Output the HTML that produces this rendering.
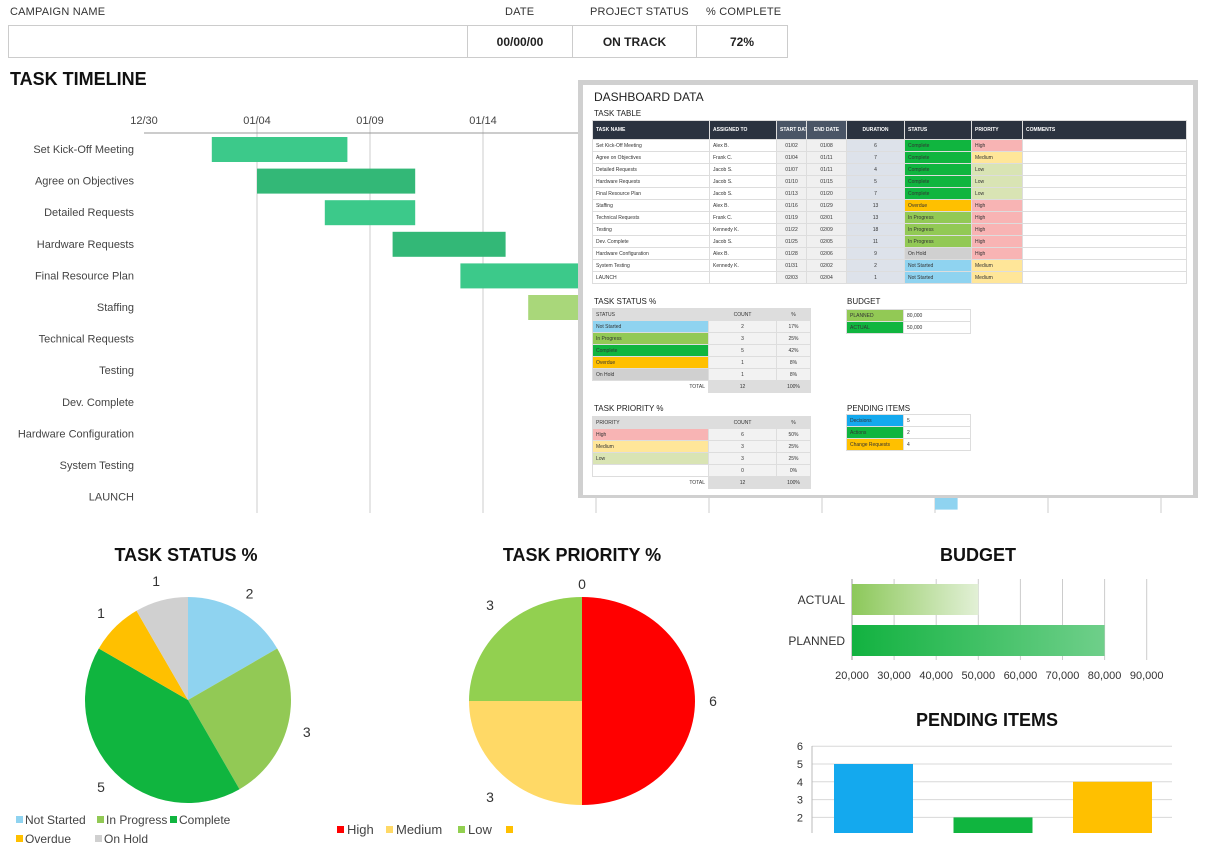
<!DOCTYPE html>
<html><head><meta charset="utf-8">
<style>
body{margin:0;width:1205px;height:851px;overflow:hidden;background:#fff;font-family:"Liberation Sans",sans-serif;color:#222;position:relative}
.a{position:absolute}
.lbl{font-size:11px;color:#333;letter-spacing:0.2px}
.hb{position:absolute;top:25px;height:33px;border:1px solid #ccc;box-sizing:border-box;font-weight:bold;font-size:12px;display:flex;align-items:center;justify-content:center}
.title{font-weight:bold;font-size:18px;color:#111}
table{border-collapse:collapse;position:absolute;font-size:5px;color:#333;table-layout:fixed}
td{border:1px solid #ddd;padding:0 3px;height:11px;overflow:hidden;white-space:nowrap}
.th td{background:#2b3340;color:#fff;font-weight:bold;height:18px}
.ph{font-size:8px;color:#222}
</style></head><body>
<div class="a lbl" style="left:10px;top:6px">CAMPAIGN NAME</div>
<div class="a lbl" style="left:505px;top:6px">DATE</div>
<div class="a lbl" style="left:590px;top:6px">PROJECT STATUS</div>
<div class="a lbl" style="left:706px;top:6px">% COMPLETE</div>
<div class="hb" style="left:8px;width:460px"></div>
<div class="hb" style="left:467px;width:106px">00/00/00</div>
<div class="hb" style="left:572px;width:125px">ON TRACK</div>
<div class="hb" style="left:696px;width:92px">72%</div>
<div class="a title" style="left:10px;top:69px">TASK TIMELINE</div>

<svg class="a" style="left:0;top:0" width="1205" height="851" id="charts"></svg>

<div class="a" style="left:578px;top:80px;width:620px;height:418px;background:#d0d0d0">
 <div class="a" style="left:5px;top:5px;width:610px;height:410px;background:#fff"></div>
</div>
<div class="a" style="left:594px;top:90px;font-size:12px;color:#222">DASHBOARD DATA</div>
<div class="a ph" style="left:594px;top:109px">TASK TABLE</div>
<table style="left:592px;top:120px;width:595px">
<colgroup><col style="width:117px"><col style="width:67px"><col style="width:30px"><col style="width:40px"><col style="width:58px"><col style="width:67px"><col style="width:51px"><col></colgroup>
<tr class="th"><td>TASK NAME</td><td>ASSIGNED TO</td><td style="background:#4a5566;text-align:center">START DATE</td><td style="background:#4a5566;text-align:center">END DATE</td><td style="text-align:center">DURATION</td><td>STATUS</td><td>PRIORITY</td><td>COMMENTS</td></tr>
<tbody id="ttb"></tbody></table>

<div class="a ph" style="left:594px;top:297px">TASK STATUS %</div>
<table style="left:592px;top:308px;width:219px"><colgroup><col style="width:116px"><col style="width:68px"><col></colgroup>
<tr style="background:#ddd"><td>STATUS</td><td style="text-align:center">COUNT</td><td style="text-align:center">%</td></tr>
<tr><td style="background:#8fd3f0">Not Started</td><td style="text-align:center;background:#f2f2f2">2</td><td style="text-align:center;background:#f2f2f2">17%</td></tr>
<tr><td style="background:#92c955">In Progress</td><td style="text-align:center;background:#f2f2f2">3</td><td style="text-align:center;background:#f2f2f2">25%</td></tr>
<tr><td style="background:#10b53f">Complete</td><td style="text-align:center;background:#f2f2f2">5</td><td style="text-align:center;background:#f2f2f2">42%</td></tr>
<tr><td style="background:#ffc000">Overdue</td><td style="text-align:center;background:#f2f2f2">1</td><td style="text-align:center;background:#f2f2f2">8%</td></tr>
<tr><td style="background:#d0d0d0">On Hold</td><td style="text-align:center;background:#f2f2f2">1</td><td style="text-align:center;background:#f2f2f2">8%</td></tr>
<tr><td style="text-align:right;border:none">TOTAL</td><td style="text-align:center;background:#ddd">12</td><td style="text-align:center;background:#ddd">100%</td></tr></table>

<div class="a ph" style="left:594px;top:404px">TASK PRIORITY %</div>
<table style="left:592px;top:416px;width:219px"><colgroup><col style="width:116px"><col style="width:68px"><col></colgroup>
<tr style="background:#ddd"><td>PRIORITY</td><td style="text-align:center">COUNT</td><td style="text-align:center">%</td></tr>
<tr><td style="background:#f8b4b4">High</td><td style="text-align:center;background:#f2f2f2">6</td><td style="text-align:center;background:#f2f2f2">50%</td></tr>
<tr><td style="background:#ffe699">Medium</td><td style="text-align:center;background:#f2f2f2">3</td><td style="text-align:center;background:#f2f2f2">25%</td></tr>
<tr><td style="background:#d9e4b4">Low</td><td style="text-align:center;background:#f2f2f2">3</td><td style="text-align:center;background:#f2f2f2">25%</td></tr>
<tr><td></td><td style="text-align:center;background:#f2f2f2">0</td><td style="text-align:center;background:#f2f2f2">0%</td></tr>
<tr><td style="text-align:right;border:none">TOTAL</td><td style="text-align:center;background:#ddd">12</td><td style="text-align:center;background:#ddd">100%</td></tr></table>

<div class="a ph" style="left:847px;top:297px">BUDGET</div>
<table style="left:846px;top:309px;width:125px"><colgroup><col style="width:57px"><col></colgroup>
<tr><td style="background:#92c955">PLANNED</td><td>80,000</td></tr><tr><td style="background:#10b53f">ACTUAL</td><td>50,000</td></tr></table>
<div class="a ph" style="left:847px;top:404px">PENDING ITEMS</div>
<table style="left:846px;top:414px;width:125px"><colgroup><col style="width:57px"><col></colgroup>
<tr><td style="background:#14a9ee">Decisions</td><td>5</td></tr><tr><td style="background:#10b53f">Actions</td><td>2</td></tr><tr><td style="background:#ffc000">Change Requests</td><td>4</td></tr></table>

<div class="a title" style="left:86px;top:545px;width:200px;text-align:center">TASK STATUS %</div>
<div class="a title" style="left:482px;top:545px;width:200px;text-align:center">TASK PRIORITY %</div>
<div class="a title" style="left:878px;top:545px;width:200px;text-align:center">BUDGET</div>
<div class="a title" style="left:867px;top:710px;width:240px;text-align:center">PENDING ITEMS</div>

<script>
const tasks=["Set Kick-Off Meeting","Agree on Objectives","Detailed Requests","Hardware Requests","Final Resource Plan","Staffing","Technical Requests","Testing","Dev. Complete","Hardware Configuration","System Testing","LAUNCH"];
const assigned=["Alex B.","Frank C.","Jacob S.","Jacob S.","Jacob S.","Alex B.","Frank C.","Kennedy K.","Jacob S.","Alex B.","Kennedy K.",""];
const startLbl=["01/02","01/04","01/07","01/10","01/13","01/16","01/19","01/22","01/25","01/28","01/31","02/03"];
const endLbl=["01/08","01/11","01/11","01/15","01/20","01/29","02/01","02/09","02/05","02/06","02/02","02/04"];
const startDay=[3,5,8,11,14,17,20,23,26,29,32,35];
const duration=[6,7,4,5,7,13,13,18,11,9,2,1];
const status=["Complete","Complete","Complete","Complete","Complete","Overdue","In Progress","In Progress","In Progress","On Hold","Not Started","Not Started"];
const priority=["High","Medium","Low","Low","Low","High","High","High","High","High","Medium","Medium"];
const dayTicks=["12/30","01/04","01/09","01/14","01/19","01/24","01/29","02/03","02/08","02/13"];
const statusNames=["Not Started","In Progress","Complete","Overdue","On Hold"];
const statusCounts=[2,3,5,1,1];
const priorityNames=["High","Medium","Low",""];
const priorityCounts=[6,3,3,0];
const budgetCats=["ACTUAL","PLANNED"];
const budgetVals=[50000,80000];
const budgetTicks=[20000,30000,40000,50000,60000,70000,80000,90000];
const pendingCats=["Decisions","Actions","Change Requests"];
const pendingVals=[5,2,4];
const pendingTicks=[6,5,4,3,2];

const stColor={"Complete":"#10b53f","Overdue":"#ffc000","In Progress":"#92c955","On Hold":"#d0d0d0","Not Started":"#8fd3f0"};
const prColor={"High":"#f8b4b4","Medium":"#ffe699","Low":"#d9e4b4"};
const ganttColor={"Complete":"#3cc98a","Overdue":"#a9d77a","In Progress":"#92c955","On Hold":"#d0d0d0","Not Started":"#8fd3f0"};

const ttb=document.getElementById('ttb');
tasks.forEach((t,i)=>{
 const tr=document.createElement('tr');
 
 
 const cells=[[t,''],[assigned[i],''],[startLbl[i],'background:#f0f0f0;text-align:center'],[endLbl[i],'background:#f0f0f0;text-align:center'],[duration[i],'background:#dde2ea;text-align:center'],[status[i],'background:'+stColor[status[i]]],[priority[i],'background:'+prColor[priority[i]]],['','']];
 cells.forEach(c=>{const td=document.createElement('td');td.textContent=c[0];td.style.cssText=c[1];tr.appendChild(td);});
 ttb.appendChild(tr);
});

const svg=document.getElementById('charts');
const NS='http://www.w3.org/2000/svg';
function el(tag,attrs,parent){const e=document.createElementNS(NS,tag);for(const k in attrs)e.setAttribute(k,attrs[k]);(parent||svg).appendChild(e);return e;}
function txt(s,attrs){const e=el('text',Object.assign({'font-family':'Liberation Sans, sans-serif'},attrs));e.textContent=s;return e;}

// defs
const defs=el('defs',{});
const g1=el('linearGradient',{id:'gA',x1:0,x2:1,y1:0,y2:0},defs);
el('stop',{offset:0,'stop-color':'#8cc85a'},g1);el('stop',{offset:1,'stop-color':'#e2f0d6'},g1);
const g2=el('linearGradient',{id:'gP',x1:0,x2:1,y1:0,y2:0},defs);
el('stop',{offset:0,'stop-color':'#12b240'},g2);el('stop',{offset:1,'stop-color':'#6fcf8a'},g2);

// Gantt
const gx=d=>144+d*22.6;
const rowY=i=>137+i*31.6;
for(let k=1;k<dayTicks.length;k++){
 const x=gx(k*5); if(x>1165)break;
 const l=el('line',{x1:x,x2:x,y1:118,y2:513,stroke:'#ccc','stroke-width':1});
 
}
el('line',{x1:144,x2:1165,y1:133,y2:133,stroke:'#999'});
dayTicks.forEach((d,k)=>{const x=gx(k*5);if(x>1165)return;
 const t=txt(d,{x:x,y:124,'font-size':11,'text-anchor':'middle',fill:'#444'});
 });
tasks.forEach((t,i)=>{
 const lb=txt(t,{x:134,y:rowY(i)+16,'font-size':11,'text-anchor':'end',fill:'#444'});
 
 const r=el('rect',{x:gx(startDay[i]),y:rowY(i),width:duration[i]*22.6,height:25,fill:(i%2==1&&status[i]=='Complete')?'#33b877':ganttColor[status[i]]});
 
});

// Pie helper
function pie(cx,cy,rx,ry,vals,cols,name){
 const tot=vals.reduce((a,b)=>a+b,0);let a=-Math.PI/2;
 vals.forEach((v,i)=>{ if(v<=0)return;
  const b=a+v/tot*2*Math.PI;
  const x1=cx+rx*Math.cos(a),y1=cy+ry*Math.sin(a),x2=cx+rx*Math.cos(b),y2=cy+ry*Math.sin(b);
  const p=el('path',{d:`M${cx},${cy}L${x1},${y1}A${rx},${ry} 0 ${b-a>Math.PI?1:0} 1 ${x2},${y2}Z`,fill:cols[i]});
  
  a=b;});
}
function pieLabels(cx,cy,rx,ry,vals,off,name){
 const tot=vals.reduce((a,b)=>a+b,0);let a=-Math.PI/2;
 vals.forEach((v,i)=>{const m=a+v/tot*Math.PI;a+=v/tot*2*Math.PI;
  const t=txt(String(v),{x:cx+(rx+off)*Math.cos(m),y:cy+(ry+off)*Math.sin(m)+5,'font-size':14,'text-anchor':'middle',fill:'#333'});
  });
}
const sCols=["#8fd3f0","#92c955","#10b53f","#ffc000","#d0d0d0"];
pie(188,700,103,103,statusCounts,sCols,'status-pie');
pieLabels(188,700,103,103,statusCounts,20,'status-pie');
const pCols=["#ff0000","#ffd966","#92d050","#ffc000"];
pie(582,701,113,104,priorityCounts,pCols,'priority-pie');
{ // priority labels positioned at quadrants
 const tot=priorityCounts.reduce((a,b)=>a+b,0);let a=-Math.PI/2;
 priorityCounts.forEach((v,i)=>{const b=a+v/tot*2*Math.PI;const m=(a+b)/2;a=b;
  let x,y;
  if(v==0){x=582;y=589;}else{x=582+(113+18)*Math.cos(m);y=701+(104+18)*Math.sin(m)+5;
   if(Math.abs(Math.cos(m))<0.9){x=582+ (Math.cos(m)>0?1:-1)*92; y=701+(Math.sin(m)>0?1:-1)*96+5;}}
  const t=txt(String(v),{x:x,y:y,'font-size':14,'text-anchor':'middle',fill:'#333'});
  });
}
// legends
const sLeg=[[16,824],[97,824],[170,824],[16,843],[95,843]];
statusNames.forEach((n,i)=>{el('rect',{x:sLeg[i][0],y:sLeg[i][1]-8,width:7,height:7,fill:sCols[i]});
 const t=txt(n,{x:sLeg[i][0]+9,y:sLeg[i][1],'font-size':12,fill:'#444'});});
const pLeg=[337,386,458,506];
priorityNames.forEach((n,i)=>{el('rect',{x:pLeg[i],y:826,width:7,height:7,fill:pCols[i]});
 const t=txt(n,{x:pLeg[i]+10,y:834,'font-size':13,fill:'#444'});});

// Budget bar chart
const bx=v=>852+(v-20000)/10000*42.1;
budgetTicks.forEach(v=>{el('line',{x1:bx(v),x2:bx(v),y1:579,y2:660,stroke:'#ccc'});
 const t=txt(v.toLocaleString('en-US'),{x:bx(v),y:679,'font-size':11,'text-anchor':'middle',fill:'#333'});
 });
el('line',{x1:852,x2:852,y1:579,y2:660,stroke:'#999'});
budgetCats.forEach((c,i)=>{const y=584+i*41;
 const r=el('rect',{x:852,y:y,width:bx(budgetVals[i])-852,height:31,fill:i==0?'url(#gA)':'url(#gP)'});
 
 const t=txt(c,{x:845,y:y+20,'font-size':12,'text-anchor':'end',fill:'#333'});});

// Pending bar chart
const py=v=>764+(5-v)*17.8;
pendingTicks.forEach(v=>{el('line',{x1:812,x2:1172,y1:py(v),y2:py(v),stroke:'#d8d8d8'});
 const t=txt(String(v),{x:803,y:py(v)+4,'font-size':11,'text-anchor':'end',fill:'#333'});
 });
el('line',{x1:812,x2:812,y1:746,y2:833,stroke:'#bbb'});
const pc=["#14a9ee","#10b53f","#ffc000"];
pendingVals.forEach((v,i)=>{const x=834+i*119.5;
 const r=el('rect',{x:x,y:py(v),width:79,height:833-py(v),fill:pc[i]});
 });
</script>
</body></html>
